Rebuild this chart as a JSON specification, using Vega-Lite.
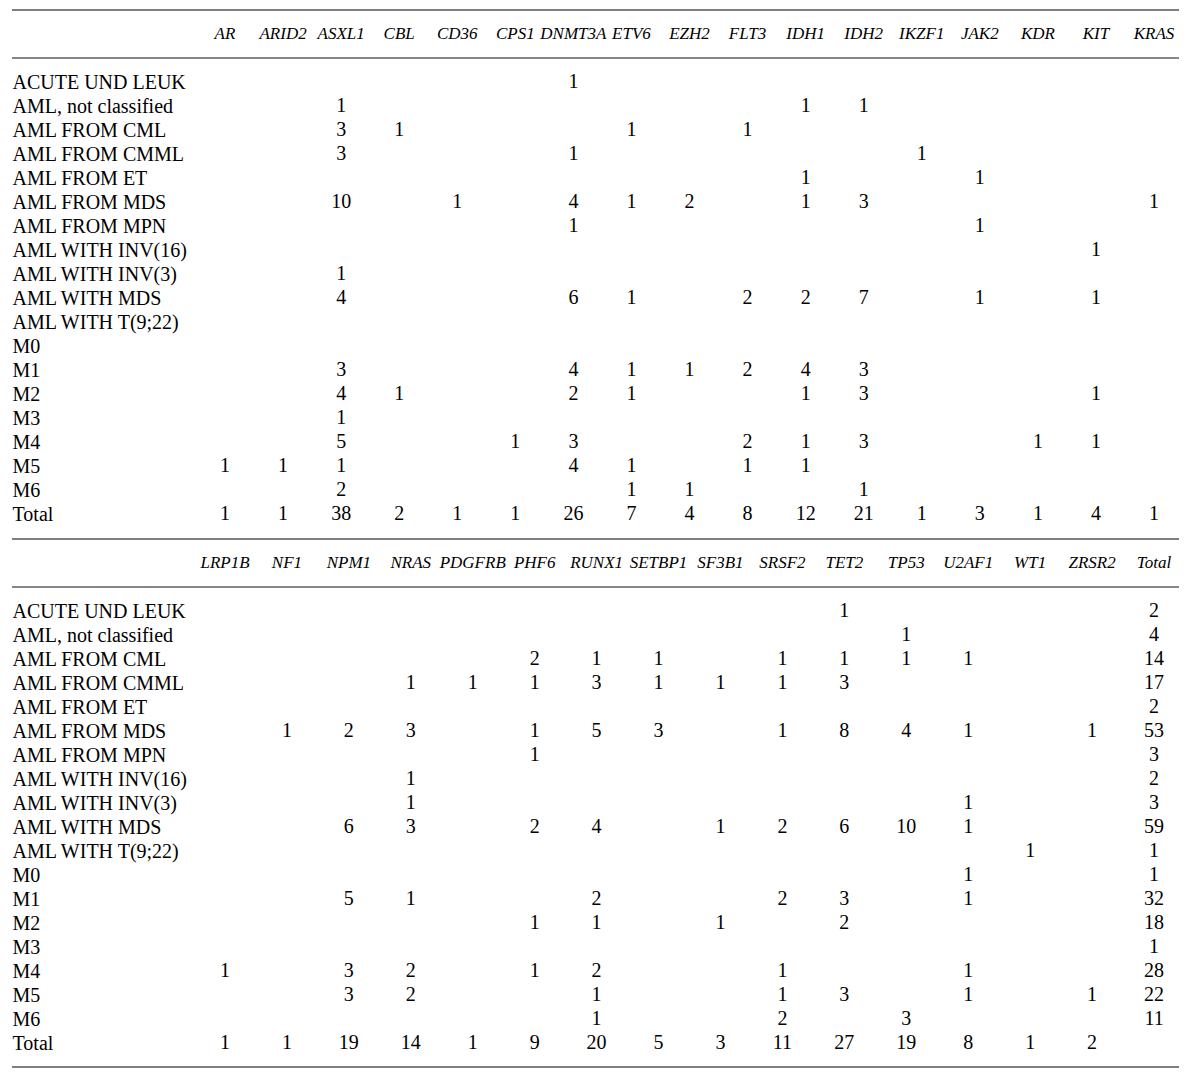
{
  "$schema": "https://vega.github.io/schema/vega-lite/v6.json",
  "padding": {"left": 11, "top": 0, "right": 0, "bottom": 0},
  "background": "white",
  "bounds": "flush",
  "spacing": 25,
  "config": {
    "view": {"stroke": null},
    "text": {"font": "Liberation Serif", "fontSize": 20, "color": "black"}
  },
  "datasets": {
    "topcells": [
      {"row": "ACUTE UND LEUK", "gene": "DNMT3A", "n": 1},
      {"row": "AML, not classified", "gene": "ASXL1", "n": 1},
      {"row": "AML, not classified", "gene": "IDH1", "n": 1},
      {"row": "AML, not classified", "gene": "IDH2", "n": 1},
      {"row": "AML FROM CML", "gene": "ASXL1", "n": 3},
      {"row": "AML FROM CML", "gene": "CBL", "n": 1},
      {"row": "AML FROM CML", "gene": "ETV6", "n": 1},
      {"row": "AML FROM CML", "gene": "FLT3", "n": 1},
      {"row": "AML FROM CMML", "gene": "ASXL1", "n": 3},
      {"row": "AML FROM CMML", "gene": "DNMT3A", "n": 1},
      {"row": "AML FROM CMML", "gene": "IKZF1", "n": 1},
      {"row": "AML FROM ET", "gene": "IDH1", "n": 1},
      {"row": "AML FROM ET", "gene": "JAK2", "n": 1},
      {"row": "AML FROM MDS", "gene": "ASXL1", "n": 10},
      {"row": "AML FROM MDS", "gene": "CD36", "n": 1},
      {"row": "AML FROM MDS", "gene": "DNMT3A", "n": 4},
      {"row": "AML FROM MDS", "gene": "ETV6", "n": 1},
      {"row": "AML FROM MDS", "gene": "EZH2", "n": 2},
      {"row": "AML FROM MDS", "gene": "IDH1", "n": 1},
      {"row": "AML FROM MDS", "gene": "IDH2", "n": 3},
      {"row": "AML FROM MDS", "gene": "KRAS", "n": 1},
      {"row": "AML FROM MPN", "gene": "DNMT3A", "n": 1},
      {"row": "AML FROM MPN", "gene": "JAK2", "n": 1},
      {"row": "AML WITH INV(16)", "gene": "KIT", "n": 1},
      {"row": "AML WITH INV(3)", "gene": "ASXL1", "n": 1},
      {"row": "AML WITH MDS", "gene": "ASXL1", "n": 4},
      {"row": "AML WITH MDS", "gene": "DNMT3A", "n": 6},
      {"row": "AML WITH MDS", "gene": "ETV6", "n": 1},
      {"row": "AML WITH MDS", "gene": "FLT3", "n": 2},
      {"row": "AML WITH MDS", "gene": "IDH1", "n": 2},
      {"row": "AML WITH MDS", "gene": "IDH2", "n": 7},
      {"row": "AML WITH MDS", "gene": "JAK2", "n": 1},
      {"row": "AML WITH MDS", "gene": "KIT", "n": 1},
      {"row": "M1", "gene": "ASXL1", "n": 3},
      {"row": "M1", "gene": "DNMT3A", "n": 4},
      {"row": "M1", "gene": "ETV6", "n": 1},
      {"row": "M1", "gene": "EZH2", "n": 1},
      {"row": "M1", "gene": "FLT3", "n": 2},
      {"row": "M1", "gene": "IDH1", "n": 4},
      {"row": "M1", "gene": "IDH2", "n": 3},
      {"row": "M2", "gene": "ASXL1", "n": 4},
      {"row": "M2", "gene": "CBL", "n": 1},
      {"row": "M2", "gene": "DNMT3A", "n": 2},
      {"row": "M2", "gene": "ETV6", "n": 1},
      {"row": "M2", "gene": "IDH1", "n": 1},
      {"row": "M2", "gene": "IDH2", "n": 3},
      {"row": "M2", "gene": "KIT", "n": 1},
      {"row": "M3", "gene": "ASXL1", "n": 1},
      {"row": "M4", "gene": "ASXL1", "n": 5},
      {"row": "M4", "gene": "CPS1", "n": 1},
      {"row": "M4", "gene": "DNMT3A", "n": 3},
      {"row": "M4", "gene": "FLT3", "n": 2},
      {"row": "M4", "gene": "IDH1", "n": 1},
      {"row": "M4", "gene": "IDH2", "n": 3},
      {"row": "M4", "gene": "KDR", "n": 1},
      {"row": "M4", "gene": "KIT", "n": 1},
      {"row": "M5", "gene": "AR", "n": 1},
      {"row": "M5", "gene": "ARID2", "n": 1},
      {"row": "M5", "gene": "ASXL1", "n": 1},
      {"row": "M5", "gene": "DNMT3A", "n": 4},
      {"row": "M5", "gene": "ETV6", "n": 1},
      {"row": "M5", "gene": "FLT3", "n": 1},
      {"row": "M5", "gene": "IDH1", "n": 1},
      {"row": "M6", "gene": "ASXL1", "n": 2},
      {"row": "M6", "gene": "ETV6", "n": 1},
      {"row": "M6", "gene": "EZH2", "n": 1},
      {"row": "M6", "gene": "IDH2", "n": 1},
      {"row": "Total", "gene": "AR", "n": 1},
      {"row": "Total", "gene": "ARID2", "n": 1},
      {"row": "Total", "gene": "ASXL1", "n": 38},
      {"row": "Total", "gene": "CBL", "n": 2},
      {"row": "Total", "gene": "CD36", "n": 1},
      {"row": "Total", "gene": "CPS1", "n": 1},
      {"row": "Total", "gene": "DNMT3A", "n": 26},
      {"row": "Total", "gene": "ETV6", "n": 7},
      {"row": "Total", "gene": "EZH2", "n": 4},
      {"row": "Total", "gene": "FLT3", "n": 8},
      {"row": "Total", "gene": "IDH1", "n": 12},
      {"row": "Total", "gene": "IDH2", "n": 21},
      {"row": "Total", "gene": "IKZF1", "n": 1},
      {"row": "Total", "gene": "JAK2", "n": 3},
      {"row": "Total", "gene": "KDR", "n": 1},
      {"row": "Total", "gene": "KIT", "n": 4},
      {"row": "Total", "gene": "KRAS", "n": 1}
    ],
    "bottomcells": [
      {"row": "ACUTE UND LEUK", "gene": "TET2", "n": 1},
      {"row": "ACUTE UND LEUK", "gene": "Total", "n": 2},
      {"row": "AML, not classified", "gene": "TP53", "n": 1},
      {"row": "AML, not classified", "gene": "Total", "n": 4},
      {"row": "AML FROM CML", "gene": "PHF6", "n": 2},
      {"row": "AML FROM CML", "gene": "RUNX1", "n": 1},
      {"row": "AML FROM CML", "gene": "SETBP1", "n": 1},
      {"row": "AML FROM CML", "gene": "SRSF2", "n": 1},
      {"row": "AML FROM CML", "gene": "TET2", "n": 1},
      {"row": "AML FROM CML", "gene": "TP53", "n": 1},
      {"row": "AML FROM CML", "gene": "U2AF1", "n": 1},
      {"row": "AML FROM CML", "gene": "Total", "n": 14},
      {"row": "AML FROM CMML", "gene": "NRAS", "n": 1},
      {"row": "AML FROM CMML", "gene": "PDGFRB", "n": 1},
      {"row": "AML FROM CMML", "gene": "PHF6", "n": 1},
      {"row": "AML FROM CMML", "gene": "RUNX1", "n": 3},
      {"row": "AML FROM CMML", "gene": "SETBP1", "n": 1},
      {"row": "AML FROM CMML", "gene": "SF3B1", "n": 1},
      {"row": "AML FROM CMML", "gene": "SRSF2", "n": 1},
      {"row": "AML FROM CMML", "gene": "TET2", "n": 3},
      {"row": "AML FROM CMML", "gene": "Total", "n": 17},
      {"row": "AML FROM ET", "gene": "Total", "n": 2},
      {"row": "AML FROM MDS", "gene": "NF1", "n": 1},
      {"row": "AML FROM MDS", "gene": "NPM1", "n": 2},
      {"row": "AML FROM MDS", "gene": "NRAS", "n": 3},
      {"row": "AML FROM MDS", "gene": "PHF6", "n": 1},
      {"row": "AML FROM MDS", "gene": "RUNX1", "n": 5},
      {"row": "AML FROM MDS", "gene": "SETBP1", "n": 3},
      {"row": "AML FROM MDS", "gene": "SRSF2", "n": 1},
      {"row": "AML FROM MDS", "gene": "TET2", "n": 8},
      {"row": "AML FROM MDS", "gene": "TP53", "n": 4},
      {"row": "AML FROM MDS", "gene": "U2AF1", "n": 1},
      {"row": "AML FROM MDS", "gene": "ZRSR2", "n": 1},
      {"row": "AML FROM MDS", "gene": "Total", "n": 53},
      {"row": "AML FROM MPN", "gene": "PHF6", "n": 1},
      {"row": "AML FROM MPN", "gene": "Total", "n": 3},
      {"row": "AML WITH INV(16)", "gene": "NRAS", "n": 1},
      {"row": "AML WITH INV(16)", "gene": "Total", "n": 2},
      {"row": "AML WITH INV(3)", "gene": "NRAS", "n": 1},
      {"row": "AML WITH INV(3)", "gene": "U2AF1", "n": 1},
      {"row": "AML WITH INV(3)", "gene": "Total", "n": 3},
      {"row": "AML WITH MDS", "gene": "NPM1", "n": 6},
      {"row": "AML WITH MDS", "gene": "NRAS", "n": 3},
      {"row": "AML WITH MDS", "gene": "PHF6", "n": 2},
      {"row": "AML WITH MDS", "gene": "RUNX1", "n": 4},
      {"row": "AML WITH MDS", "gene": "SF3B1", "n": 1},
      {"row": "AML WITH MDS", "gene": "SRSF2", "n": 2},
      {"row": "AML WITH MDS", "gene": "TET2", "n": 6},
      {"row": "AML WITH MDS", "gene": "TP53", "n": 10},
      {"row": "AML WITH MDS", "gene": "U2AF1", "n": 1},
      {"row": "AML WITH MDS", "gene": "Total", "n": 59},
      {"row": "AML WITH T(9;22)", "gene": "WT1", "n": 1},
      {"row": "AML WITH T(9;22)", "gene": "Total", "n": 1},
      {"row": "M0", "gene": "U2AF1", "n": 1},
      {"row": "M0", "gene": "Total", "n": 1},
      {"row": "M1", "gene": "NPM1", "n": 5},
      {"row": "M1", "gene": "NRAS", "n": 1},
      {"row": "M1", "gene": "RUNX1", "n": 2},
      {"row": "M1", "gene": "SRSF2", "n": 2},
      {"row": "M1", "gene": "TET2", "n": 3},
      {"row": "M1", "gene": "U2AF1", "n": 1},
      {"row": "M1", "gene": "Total", "n": 32},
      {"row": "M2", "gene": "PHF6", "n": 1},
      {"row": "M2", "gene": "RUNX1", "n": 1},
      {"row": "M2", "gene": "SF3B1", "n": 1},
      {"row": "M2", "gene": "TET2", "n": 2},
      {"row": "M2", "gene": "Total", "n": 18},
      {"row": "M3", "gene": "Total", "n": 1},
      {"row": "M4", "gene": "LRP1B", "n": 1},
      {"row": "M4", "gene": "NPM1", "n": 3},
      {"row": "M4", "gene": "NRAS", "n": 2},
      {"row": "M4", "gene": "PHF6", "n": 1},
      {"row": "M4", "gene": "RUNX1", "n": 2},
      {"row": "M4", "gene": "SRSF2", "n": 1},
      {"row": "M4", "gene": "U2AF1", "n": 1},
      {"row": "M4", "gene": "Total", "n": 28},
      {"row": "M5", "gene": "NPM1", "n": 3},
      {"row": "M5", "gene": "NRAS", "n": 2},
      {"row": "M5", "gene": "RUNX1", "n": 1},
      {"row": "M5", "gene": "SRSF2", "n": 1},
      {"row": "M5", "gene": "TET2", "n": 3},
      {"row": "M5", "gene": "U2AF1", "n": 1},
      {"row": "M5", "gene": "ZRSR2", "n": 1},
      {"row": "M5", "gene": "Total", "n": 22},
      {"row": "M6", "gene": "RUNX1", "n": 1},
      {"row": "M6", "gene": "SRSF2", "n": 2},
      {"row": "M6", "gene": "TP53", "n": 3},
      {"row": "M6", "gene": "Total", "n": 11},
      {"row": "Total", "gene": "LRP1B", "n": 1},
      {"row": "Total", "gene": "NF1", "n": 1},
      {"row": "Total", "gene": "NPM1", "n": 19},
      {"row": "Total", "gene": "NRAS", "n": 14},
      {"row": "Total", "gene": "PDGFRB", "n": 1},
      {"row": "Total", "gene": "PHF6", "n": 9},
      {"row": "Total", "gene": "RUNX1", "n": 20},
      {"row": "Total", "gene": "SETBP1", "n": 5},
      {"row": "Total", "gene": "SF3B1", "n": 3},
      {"row": "Total", "gene": "SRSF2", "n": 11},
      {"row": "Total", "gene": "TET2", "n": 27},
      {"row": "Total", "gene": "TP53", "n": 19},
      {"row": "Total", "gene": "U2AF1", "n": 8},
      {"row": "Total", "gene": "WT1", "n": 1},
      {"row": "Total", "gene": "ZRSR2", "n": 2}
    ],
    "topheader": [
      {"row": "_hd", "gene": "AR"}, {"row": "_hd", "gene": "ARID2"}, {"row": "_hd", "gene": "ASXL1"},
      {"row": "_hd", "gene": "CBL"}, {"row": "_hd", "gene": "CD36"}, {"row": "_hd", "gene": "CPS1"},
      {"row": "_hd", "gene": "DNMT3A"}, {"row": "_hd", "gene": "ETV6"}, {"row": "_hd", "gene": "EZH2"},
      {"row": "_hd", "gene": "FLT3"}, {"row": "_hd", "gene": "IDH1"}, {"row": "_hd", "gene": "IDH2"},
      {"row": "_hd", "gene": "IKZF1"}, {"row": "_hd", "gene": "JAK2"}, {"row": "_hd", "gene": "KDR"},
      {"row": "_hd", "gene": "KIT"}, {"row": "_hd", "gene": "KRAS"}
    ],
    "bottomheader": [
      {"row": "_hd", "gene": "LRP1B"}, {"row": "_hd", "gene": "NF1"}, {"row": "_hd", "gene": "NPM1"},
      {"row": "_hd", "gene": "NRAS"}, {"row": "_hd", "gene": "PDGFRB"}, {"row": "_hd", "gene": "PHF6"},
      {"row": "_hd", "gene": "RUNX1"}, {"row": "_hd", "gene": "SETBP1"}, {"row": "_hd", "gene": "SF3B1"},
      {"row": "_hd", "gene": "SRSF2"}, {"row": "_hd", "gene": "TET2"}, {"row": "_hd", "gene": "TP53"},
      {"row": "_hd", "gene": "U2AF1"}, {"row": "_hd", "gene": "WT1"}, {"row": "_hd", "gene": "ZRSR2"},
      {"row": "_hd", "gene": "Total"}
    ]
  },
  "vconcat": [
    {
      "width": 1167,
      "height": 504,
      "encoding": {
        "y": {
          "field": "row", "type": "nominal",
          "scale": {"type": "point", "padding": 0, "round": false,
            "domain": ["_rt", "_hd", "_rm", "ACUTE UND LEUK", "AML, not classified", "AML FROM CML", "AML FROM CMML", "AML FROM ET", "AML FROM MDS", "AML FROM MPN", "AML WITH INV(16)", "AML WITH INV(3)", "AML WITH MDS", "AML WITH T(9;22)", "M0", "M1", "M2", "M3", "M4", "M5", "M6", "Total"]},
          "axis": {"orient": "left", "title": null, "domain": false, "ticks": false, "tickSize": 0, "grid": false,
            "labelPadding": 0, "labelAlign": "left", "labelBaseline": "middle", "labelFont": "Liberation Serif",
            "labelFontSize": 20, "labelColor": "black", "labelOverlap": false, "labelBound": false, "labelFlush": false,
            "labelExpr": "substring(datum.value, 0, 1) == '_' ? '' : datum.value"}
        }
      },
      "layer": [
        {"data": {"values": [{"row": "_rt"}]}, "mark": {"type": "rule", "color": "#555555", "strokeWidth": 1.5}, "encoding": {}},
        {"data": {"values": [{"row": "_rm"}]}, "mark": {"type": "rule", "color": "#111111", "strokeWidth": 1.2}, "encoding": {}},
        {
          "data": {"name": "topheader"},
          "mark": {"type": "text", "align": "center", "baseline": "middle", "fontStyle": "italic", "fontSize": 17},
          "encoding": {
            "x": {"field": "gene", "type": "nominal", "axis": null,
              "scale": {"type": "point", "padding": 0, "round": false, "range": [213, 1142],
                "domain": ["AR", "ARID2", "ASXL1", "CBL", "CD36", "CPS1", "DNMT3A", "ETV6", "EZH2", "FLT3", "IDH1", "IDH2", "IKZF1", "JAK2", "KDR", "KIT", "KRAS"]}},
            "text": {"field": "gene"}
          }
        },
        {
          "data": {"name": "topcells"},
          "mark": {"type": "text", "align": "center", "baseline": "middle"},
          "encoding": {
            "x": {"field": "gene", "type": "nominal", "axis": null},
            "text": {"field": "n", "type": "quantitative"}
          }
        }
      ]
    },
    {
      "width": 1167,
      "height": 528,
      "encoding": {
        "y": {
          "field": "row", "type": "nominal",
          "scale": {"type": "point", "padding": 0, "round": false,
            "domain": ["_rt", "_hd", "_rm", "ACUTE UND LEUK", "AML, not classified", "AML FROM CML", "AML FROM CMML", "AML FROM ET", "AML FROM MDS", "AML FROM MPN", "AML WITH INV(16)", "AML WITH INV(3)", "AML WITH MDS", "AML WITH T(9;22)", "M0", "M1", "M2", "M3", "M4", "M5", "M6", "Total", "_rb"]},
          "axis": {"orient": "left", "title": null, "domain": false, "ticks": false, "tickSize": 0, "grid": false,
            "labelPadding": 0, "labelAlign": "left", "labelBaseline": "middle", "labelFont": "Liberation Serif",
            "labelFontSize": 20, "labelColor": "black", "labelOverlap": false, "labelBound": false, "labelFlush": false,
            "labelExpr": "substring(datum.value, 0, 1) == '_' ? '' : datum.value"}
        }
      },
      "layer": [
        {"data": {"values": [{"row": "_rt"}, {"row": "_rb"}]}, "mark": {"type": "rule", "color": "#555555", "strokeWidth": 1.5}, "encoding": {}},
        {"data": {"values": [{"row": "_rm"}]}, "mark": {"type": "rule", "color": "#111111", "strokeWidth": 1.2}, "encoding": {}},
        {
          "data": {"name": "bottomheader"},
          "mark": {"type": "text", "align": "center", "baseline": "middle", "fontStyle": "italic", "fontSize": 17},
          "encoding": {
            "x": {"field": "gene", "type": "nominal", "axis": null,
              "scale": {"type": "point", "padding": 0, "round": false, "range": [213, 1142],
                "domain": ["LRP1B", "NF1", "NPM1", "NRAS", "PDGFRB", "PHF6", "RUNX1", "SETBP1", "SF3B1", "SRSF2", "TET2", "TP53", "U2AF1", "WT1", "ZRSR2", "Total"]}},
            "text": {"field": "gene"}
          }
        },
        {
          "data": {"name": "bottomcells"},
          "mark": {"type": "text", "align": "center", "baseline": "middle"},
          "encoding": {
            "x": {"field": "gene", "type": "nominal", "axis": null},
            "text": {"field": "n", "type": "quantitative"}
          }
        }
      ]
    }
  ]
}
